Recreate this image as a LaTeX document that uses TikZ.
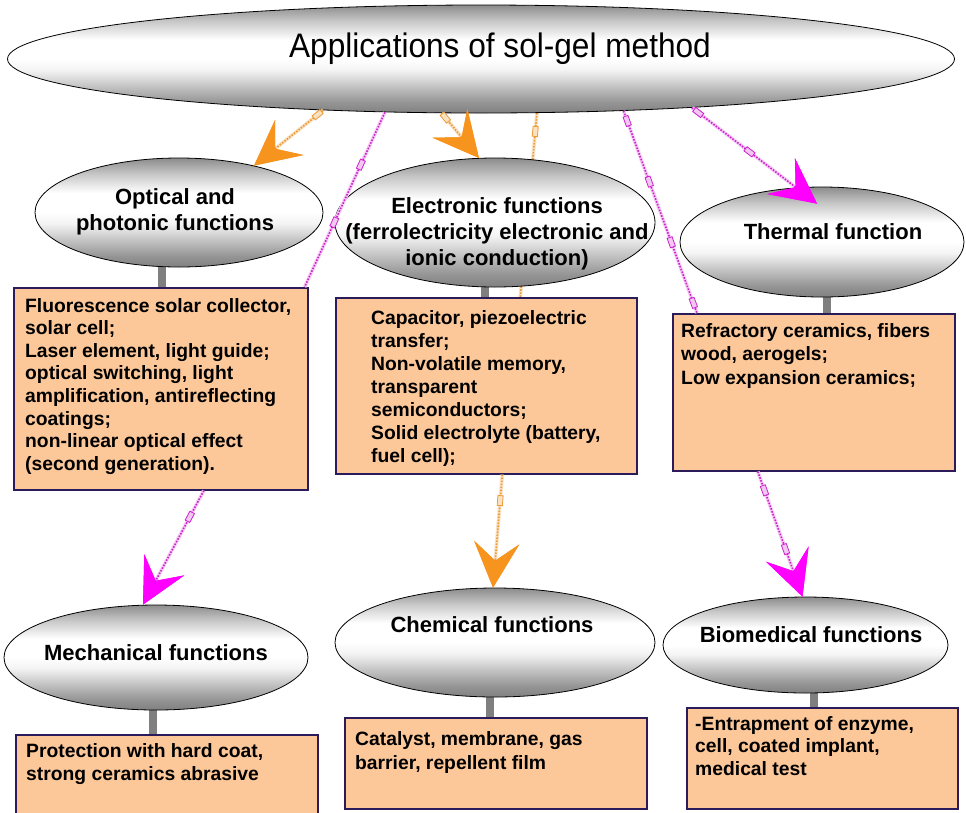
\documentclass[tikz,border=0pt]{standalone}
\usepackage{fontspec}
\setmainfont{Liberation Sans}
\newfontfamily\titlefont[FakeStretch=0.93]{Liberation Sans}
\usetikzlibrary{arrows.meta,shapes.geometric,decorations.markings,calc}
\pgfdeclarelayer{background}
\pgfsetlayers{background,main}
\definecolor{peach}{HTML}{FDC899}
\definecolor{boxline}{HTML}{2B1B5B}
\definecolor{orng}{HTML}{F7941E}
\definecolor{orngline}{HTML}{EC9A35}
\definecolor{mag}{HTML}{FF00FF}
\definecolor{magline}{HTML}{CC22CC}
\definecolor{stubgray}{HTML}{7F7F7F}
\definecolor{ga}{HTML}{808080}
\definecolor{gb}{HTML}{959595}
\definecolor{gc}{HTML}{C4C4C4}
\definecolor{gd}{HTML}{F4F4F4}
\definecolor{ge}{HTML}{C8C8C8}
\definecolor{gf}{HTML}{8C8C8C}
\pgfdeclareverticalshading{ellshade}{100bp}{color(0bp)=(ga); color(25bp)=(ga); color(30bp)=(gb); color(37.5bp)=(gc); color(45bp)=(gd); color(50bp)=(white); color(59bp)=(white); color(67.5bp)=(ge); color(75bp)=(gf); color(100bp)=(gf)}
\begin{document}
\begin{tikzpicture}[x=1pt,y=-1pt,
  ell/.style={ellipse, draw=black, line width=0.8pt, shade, shading=ellshade, inner sep=0pt},
  ellt/.style={font=\bfseries\fontsize{22}{26}\selectfont, align=center, inner sep=0pt},
  box/.style={rectangle, draw=boxline, line width=1.6pt, fill=peach, inner sep=0pt, anchor=north west},
  boxt/.style={anchor=north west, align=left, inner sep=0pt},
  stub/.style={draw=stubgray, line width=8pt},
  oline/.style={preaction={draw=orngline!30, line width=3.6pt, solid}, draw=orngline, line width=1.6pt, dash pattern=on 1.6pt off 1.4pt},
  mline/.style={preaction={draw=magline!22, line width=3.6pt, solid}, draw=magline, line width=1.6pt, dash pattern=on 1.6pt off 1.4pt},
  otip/.style={-{Stealth[length=45pt,width=45pt,inset=18pt,color=orng]}},
  mtip/.style={-{Stealth[length=45pt,width=45pt,inset=18pt,color=mag]}},
  mko/.style={postaction={decorate,decoration={markings,mark=at position #1 with {\draw[solid,orngline,line width=0.8pt,fill=orngline!30] (-5pt,-2.6pt) rectangle (5pt,2.6pt);}}}},
  mkm/.style={postaction={decorate,decoration={markings,mark=at position #1 with {\draw[solid,magline,line width=0.8pt,fill=magline!25] (-5pt,-2.6pt) rectangle (5pt,2.6pt);}}}}
]
\useasboundingbox (0,0) rectangle (966,812);
\clip (0,0) rectangle (966,812);

% ellipses
\node[ell, minimum width=947pt, minimum height=108pt] (topE) at (481,59) {};
\node[ell, minimum width=288pt, minimum height=109pt] (optE) at (179,212.5) {};
\node[ell, minimum width=320pt, minimum height=129pt] (eleE) at (495,222.5) {};
\node[ell, minimum width=284pt, minimum height=110pt] (theE) at (822,242) {};
\node[ell, minimum width=304pt, minimum height=105pt] (mecE) at (156,657.5) {};
\node[ell, minimum width=320pt, minimum height=109pt] (cheE) at (495,642.5) {};
\node[ell, minimum width=285pt, minimum height=96pt] (bioE) at (805.5,645) {};

% ellipse labels
\node[inner sep=0pt, anchor=base, font=\titlefont\fontsize{34}{40}\selectfont] (topT) at (500,57) {Applications of sol-gel method};
\node[ellt] (optT) at (175,212) {Optical and\\photonic functions};
\node[ellt] (eleT) at (497,234) {Electronic functions\\(ferrolectricity electronic and\\ionic conduction)};
\node[ellt] (theT) at (833,232) {Thermal function};
\node[ellt] (mecT) at (156,653) {Mechanical functions};
\node[ellt] (cheT) at (492,625) {Chemical functions};
\node[ellt] (bioT) at (811,635) {Biomedical functions};

% boxes
\node[box, minimum width=294pt, minimum height=202pt] (optB) at (13,287) {};
\node[box, minimum width=301pt, minimum height=176pt] (eleB) at (335,297) {};
\node[box, minimum width=282pt, minimum height=157pt] (theB) at (672,313) {};
\node[box, minimum width=302pt, minimum height=84pt] (mecB) at (15,734) {};
\node[box, minimum width=302pt, minimum height=91pt] (cheB) at (344,717) {};
\node[box, minimum width=271pt, minimum height=101pt] (bioB) at (686,707) {};

% box texts
\node[boxt, font=\bfseries\fontsize{19.3}{22.6}\selectfont] (optX) at (25,298) {Fluorescence solar collector,\\solar cell;\\Laser element, light guide;\\optical switching, light\\amplification, antireflecting\\coatings;\\non-linear optical effect\\(second generation).};
\node[boxt, font=\bfseries\fontsize{19.3}{23}\selectfont] (eleX) at (371,310) {Capacitor, piezoelectric\\transfer;\\Non-volatile memory,\\transparent\\semiconductors;\\Solid electrolyte (battery,\\fuel cell);};
\node[boxt, font=\bfseries\fontsize{19.3}{23.5}\selectfont] (theX) at (681,323) {Refractory ceramics, fibers\\wood, aerogels;\\Low expansion ceramics;};
\node[boxt, font=\bfseries\fontsize{19.3}{23.3}\selectfont] (mecX) at (26,743) {Protection with hard coat,\\strong ceramics abrasive};
\node[boxt, font=\bfseries\fontsize{19.3}{24.3}\selectfont] (cheX) at (355,731) {Catalyst, membrane, gas\\barrier, repellent film};
\node[boxt, font=\bfseries\fontsize{19.3}{22.5}\selectfont] (bioX) at (695,716) {-Entrapment of enzyme,\\cell, coated implant,\\medical test};

% stubs and hidden connector behind
\coordinate (s1) at ([xshift=-17pt]optE.center);
\coordinate (s2) at ([xshift=-10pt]eleE.center);
\coordinate (s3) at ([xshift=5pt]theE.center);
\coordinate (s4) at ([xshift=-3pt]mecE.center);
\coordinate (s5) at ([xshift=-5pt]cheE.center);
\coordinate (s6) at ([xshift=8pt]bioE.center);
\begin{pgfonlayer}{background}
\fill[white] (0,0) rectangle (966,812);
\draw[stub] (s1) -- (s1 |- optB.north);
\draw[stub] (s2) -- (s2 |- eleB.north);
\draw[stub] (s3) -- (s3 |- theB.north);
\draw[stub] (s4) -- (s4 |- mecB.north);
\draw[stub] (s5) -- (s5 |- cheB.north);
\draw[stub] (s6) -- (s6 |- bioB.north);
\draw[oline, mko=0.1] (topE.316.8) -- ([xshift=34pt]eleB.north);
\end{pgfonlayer}

% connectors
\draw[oline, otip, mko=0.08] (topE.198.35) -- (optE.32);
\draw[mline, mkm=0.3, mkm=0.63] (topE.209.6) -- ([xshift=-4pt]optB.north east);
\draw[oline, otip, mko=0.1] (topE.234.8) -- (eleE.104.8);
\draw[mline, mkm=0.05, mkm=0.35, mkm=0.65, mkm=0.95] (topE.340.6) -- ([xshift=25pt]theB.north west);
\draw[mline, mtip, mkm=0.05, mkm=0.46] (topE.347.8) -- ([shift={(-5pt,-17pt)}]theE.north);
\draw[mline, mtip, mkm=0.23] ([xshift=43pt]optB.south) -- ([xshift=-13pt]mecE.north);
\draw[oline, otip, mko=0.23] ([xshift=16pt]eleB.south) -- ([xshift=-2pt]cheE.north);
\draw[mline, mtip, mkm=0.15, mkm=0.62] ([xshift=-56pt]theB.south) -- ([xshift=-3pt]bioE.north);
\end{tikzpicture}
\end{document}
